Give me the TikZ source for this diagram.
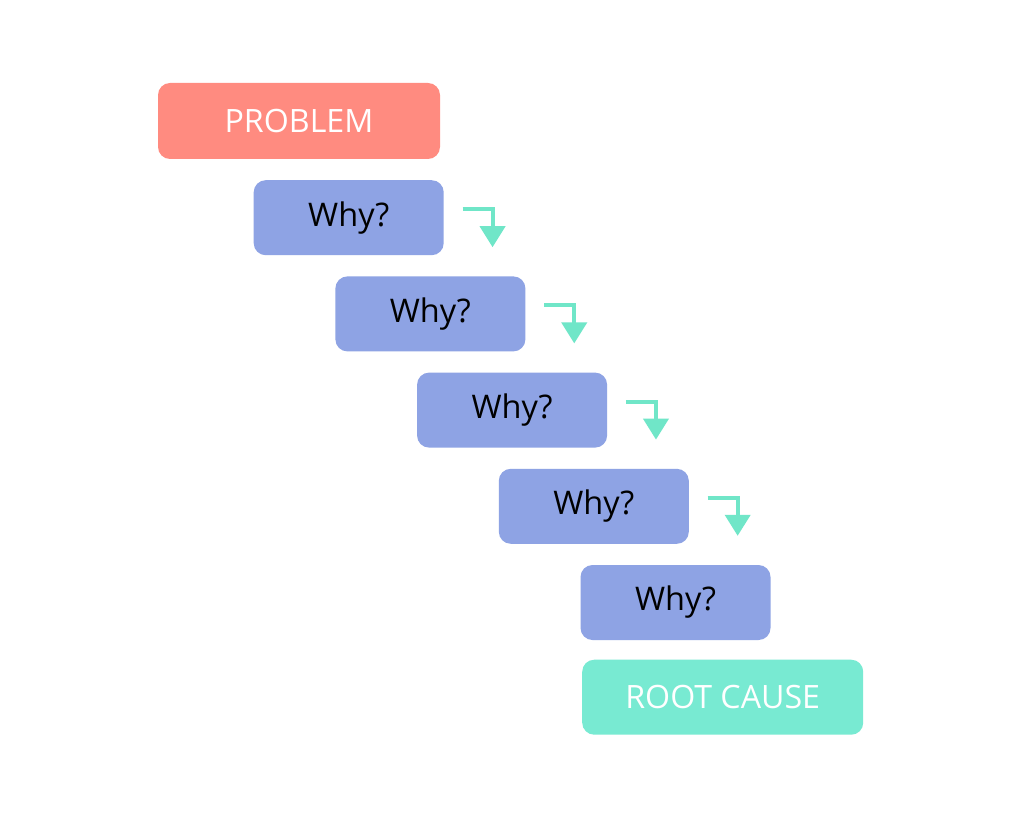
\documentclass[tikz,border=0pt]{standalone}
\usepackage{fontspec}
\setmainfont{Open Sans}
\usetikzlibrary{positioning,arrows.meta,calc}
\definecolor{probred}{RGB}{255,139,128}
\definecolor{whyblue}{RGB}{142,163,228}
\definecolor{rootteal}{RGB}{120,234,210}
\definecolor{turnteal}{RGB}{112,230,200}
\tikzset{
  probbox/.style={rectangle,rounded corners=0.24cm,fill=probred,text=white,inner sep=0pt,minimum width=5.64cm,minimum height=1.52cm,font=\fontsize{18.3}{22}\selectfont},
  whybox/.style={rectangle,rounded corners=0.24cm,fill=whyblue,text=black,inner sep=0pt,minimum width=3.8cm,minimum height=1.5cm,font=\fontsize{18.5}{22}\selectfont},
  rootbox/.style={rectangle,rounded corners=0.24cm,fill=rootteal,text=white,inner sep=0pt,minimum width=5.62cm,minimum height=1.5cm,font=\fontsize{18.3}{22}\selectfont},
  turn/.style={-{Triangle[width=0.5cm,length=0.42cm]},draw=turnteal,line width=0.08cm}
}
\begin{document}
\begin{tikzpicture}
  \useasboundingbox[fill=white] (0,0) rectangle (20.48,-16.4);
  \node[probbox] (prob) at (5.98,-2.42) {PROBLEM};
  \node[whybox,below right=0.41cm and -3.74cm of prob] (w1) {Why?};
  \node[whybox,below right=0.41cm and -2.18cm of w1] (w2) {Why?};
  \node[whybox,below right=0.41cm and -2.18cm of w2] (w3) {Why?};
  \node[whybox,below right=0.41cm and -2.18cm of w3] (w4) {Why?};
  \node[whybox,below right=0.41cm and -2.18cm of w4] (w5) {Why?};
  \node[rootbox,below right=0.38cm and -3.78cm of w5] (root) {ROOT CAUSE};
  % little turning arrows beside the first four boxes
  \foreach \i in {1,...,4}{
    \coordinate (t\i) at ($(w\i.east)+(0.37,0.17)$);
    \draw[turn] (t\i) -| ++(0.6,-0.76);
  }
\end{tikzpicture}
\end{document}
